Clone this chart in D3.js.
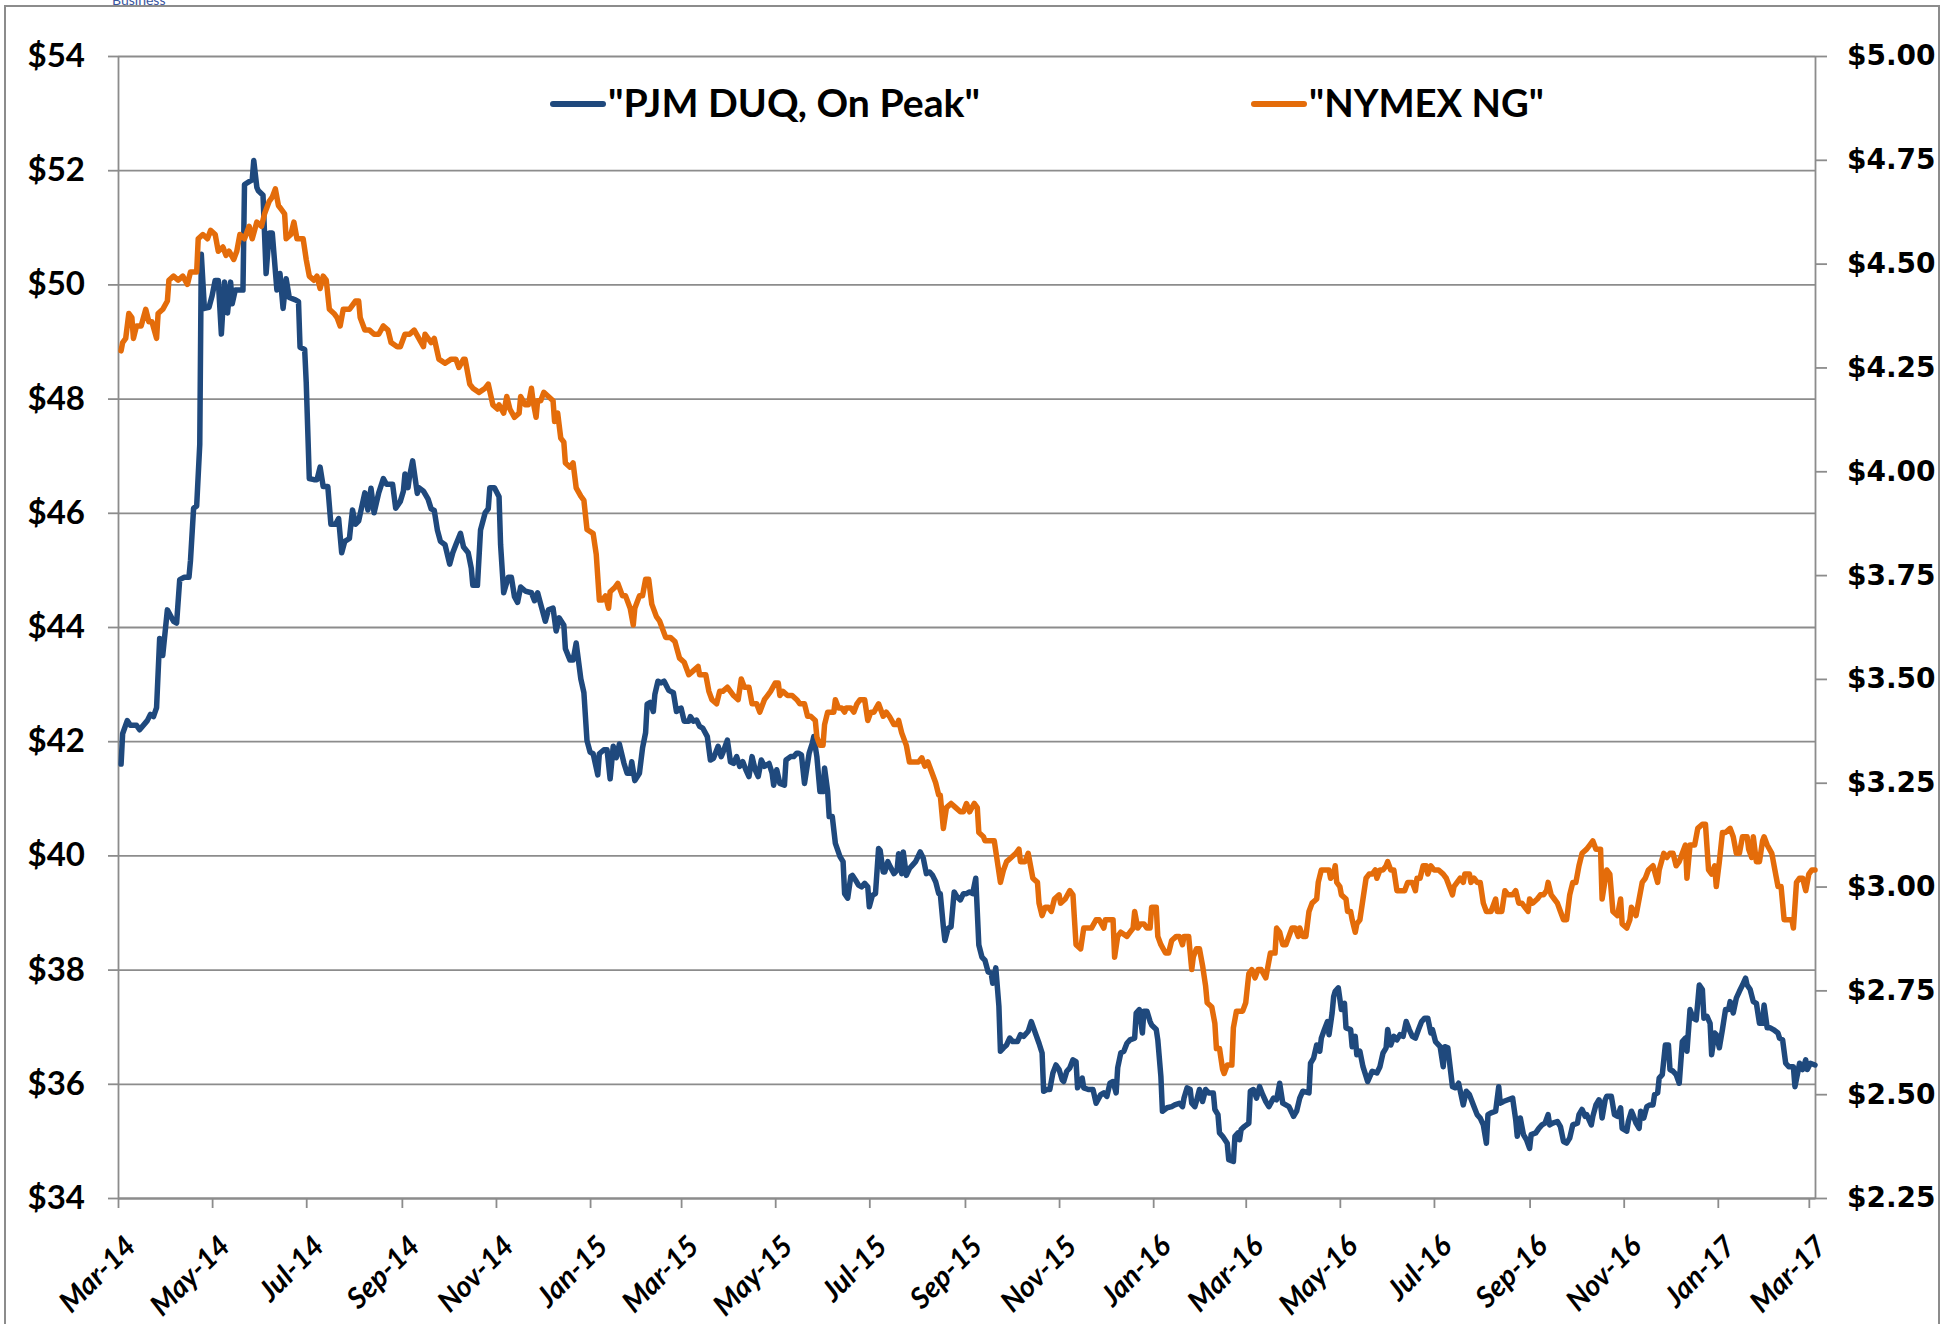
<!DOCTYPE html>
<html>
<head>
<meta charset="utf-8">
<script src="https://cdn.jsdelivr.net/npm/d3@7"></script>
<style>
  html, body { margin: 0; padding: 0; background: #fff; }
  svg { display: block; }
</style>
</head>
<body>
<div id="chart"></div>
<script>
// ---- data ----
const pjmName = '"PJM DUQ, On Peak"';
const ngName = '"NYMEX NG"';
const leftTicks = [34, 36, 38, 40, 42, 44, 46, 48, 50, 52, 54];
const rightTicks = [2.25, 2.5, 2.75, 3.0, 3.25, 3.5, 3.75, 4.0, 4.25, 4.5, 4.75, 5.0];
const monthTicks = ['2014-03-01','2014-05-01','2014-07-01','2014-09-01','2014-11-01',
  '2015-01-01','2015-03-01','2015-05-01','2015-07-01','2015-09-01','2015-11-01',
  '2016-01-01','2016-03-01','2016-05-01','2016-07-01','2016-09-01','2016-11-01',
  '2017-01-01','2017-03-01'];
const xDomain = ['2014-03-01', '2017-03-05'];

// PJM DUQ on-peak forward, $/MWh (left axis)
const pjmDuq = [
  ['2014-03-03',41.6],['2014-03-04',42.13],['2014-03-07',42.36],['2014-03-09',42.28],['2014-03-13',42.28],['2014-03-15',42.2],['2014-03-20',42.36],['2014-03-22',42.47],['2014-03-24',42.43],['2014-03-26',42.59],['2014-03-28',43.8],['2014-03-30',43.5],
  ['2014-04-02',44.3],['2014-04-04',44.2],['2014-04-06',44.1],['2014-04-08',44.07],['2014-04-10',44.83],['2014-04-13',44.87],['2014-04-16',44.87],['2014-04-17',45.17],['2014-04-19',46.08],['2014-04-21',46.12],['2014-04-23',47.2],['2014-04-24',50.53],['2014-04-26',49.58],['2014-04-29',49.6],
  ['2014-05-01',49.8],['2014-05-03',50.07],['2014-05-05',50.07],['2014-05-07',49.13],['2014-05-09',50.04],['2014-05-11',49.5],['2014-05-13',50.04],['2014-05-14',49.66],['2014-05-16',49.9],['2014-05-21',49.9],['2014-05-22',51.75],['2014-05-25',51.8],['2014-05-27',51.83],['2014-05-28',52.17],['2014-05-30',51.7],['2014-05-31',51.64],
  ['2014-06-03',51.56],['2014-06-05',50.19],['2014-06-07',50.9],['2014-06-09',50.9],['2014-06-12',49.9],['2014-06-14',50.19],['2014-06-16',49.58],['2014-06-18',50.1],['2014-06-20',49.77],['2014-06-24',49.73],['2014-06-26',49.7],['2014-06-27',48.9],['2014-06-30',48.86],
  ['2014-07-01',48.29],['2014-07-03',46.6],['2014-07-06',46.58],['2014-07-08',46.58],['2014-07-10',46.8],['2014-07-12',46.46],['2014-07-15',46.46],['2014-07-17',45.8],['2014-07-20',45.8],['2014-07-22',45.9],['2014-07-24',45.3],['2014-07-26',45.5],['2014-07-29',45.55],['2014-07-31',46.05],
  ['2014-08-02',45.8],['2014-08-04',45.86],['2014-08-08',46.35],['2014-08-10',46.05],['2014-08-12',46.43],['2014-08-14',46.0],['2014-08-17',46.35],['2014-08-20',46.6],['2014-08-22',46.5],['2014-08-26',46.5],['2014-08-28',46.08],['2014-08-31',46.2],
  ['2014-09-02',46.38],['2014-09-03',46.68],['2014-09-05',46.44],['2014-09-06',46.64],['2014-09-08',46.91],['2014-09-11',46.34],['2014-09-12',46.44],['2014-09-15',46.38],['2014-09-18',46.24],['2014-09-20',46.07],['2014-09-22',46.04],['2014-09-24',45.7],['2014-09-26',45.5],['2014-09-29',45.44],
  ['2014-10-02',45.1],['2014-10-04',45.3],['2014-10-06',45.44],['2014-10-09',45.64],['2014-10-11',45.4],['2014-10-14',45.3],['2014-10-16',45.03],['2014-10-17',44.73],['2014-10-20',44.73],['2014-10-22',45.7],['2014-10-25',46.0],['2014-10-27',46.07],['2014-10-28',46.44],['2014-10-31',46.44],
  ['2014-11-03',46.28],['2014-11-04',45.44],['2014-11-06',44.6],['2014-11-09',44.87],['2014-11-11',44.87],['2014-11-13',44.53],['2014-11-15',44.43],['2014-11-17',44.7],['2014-11-20',44.63],['2014-11-24',44.6],['2014-11-26',44.46],['2014-11-28',44.6],['2014-11-30',44.4],
  ['2014-12-03',44.1],['2014-12-05',44.3],['2014-12-08',44.33],['2014-12-10',43.93],['2014-12-12',44.16],['2014-12-15',44.03],['2014-12-16',43.62],['2014-12-19',43.42],['2014-12-21',43.42],['2014-12-23',43.72],['2014-12-26',43.09],['2014-12-28',42.85],['2014-12-30',42.01],
  ['2015-01-01',41.81],['2015-01-03',41.78],['2015-01-06',41.41],['2015-01-07',41.78],['2015-01-10',41.85],['2015-01-12',41.85],['2015-01-14',41.34],['2015-01-16',41.91],['2015-01-18',41.71],['2015-01-20',41.95],['2015-01-23',41.61],['2015-01-25',41.44],['2015-01-27',41.44],['2015-01-28',41.64],['2015-01-30',41.31],
  ['2015-02-02',41.44],['2015-02-04',41.88],['2015-02-06',42.15],['2015-02-07',42.65],['2015-02-09',42.68],['2015-02-11',42.52],['2015-02-12',42.82],['2015-02-14',43.05],['2015-02-16',43.02],['2015-02-18',43.05],['2015-02-21',42.89],['2015-02-24',42.85],['2015-02-26',42.52],
  ['2015-03-01',42.58],['2015-03-03',42.35],['2015-03-06',42.35],['2015-03-07',42.43],['2015-03-09',42.35],['2015-03-11',42.37],['2015-03-13',42.26],['2015-03-15',42.23],['2015-03-18',42.08],['2015-03-20',41.67],['2015-03-22',41.7],['2015-03-25',41.91],['2015-03-27',41.73],['2015-03-28',41.79],['2015-03-31',42.02],
  ['2015-04-02',41.64],['2015-04-04',41.61],['2015-04-06',41.73],['2015-04-08',41.56],['2015-04-10',41.64],['2015-04-12',41.5],['2015-04-14',41.38],['2015-04-16',41.73],['2015-04-18',41.5],['2015-04-20',41.38],['2015-04-22',41.67],['2015-04-24',41.56],['2015-04-27',41.61],['2015-04-29',41.44],['2015-04-30',41.23],
  ['2015-05-02',41.5],['2015-05-04',41.26],['2015-05-07',41.23],['2015-05-08',41.67],['2015-05-11',41.73],['2015-05-13',41.73],['2015-05-15',41.79],['2015-05-16',41.79],['2015-05-18',41.76],['2015-05-20',41.26],['2015-05-23',41.79],['2015-05-25',41.96],['2015-05-26',42.08],['2015-05-28',41.73],['2015-05-30',41.12],
  ['2015-06-01',41.12],['2015-06-02',41.53],['2015-06-04',41.12],['2015-06-05',40.68],['2015-06-07',40.68],['2015-06-09',40.21],['2015-06-12',39.98],['2015-06-14',39.89],['2015-06-15',39.33],['2015-06-17',39.25],['2015-06-19',39.63],['2015-06-20',39.65],['2015-06-22',39.57],['2015-06-24',39.48],['2015-06-26',39.45],['2015-06-28',39.51],['2015-06-30',39.45],
  ['2015-07-01',39.1],['2015-07-03',39.3],['2015-07-05',39.33],['2015-07-07',40.12],['2015-07-08',40.09],['2015-07-10',39.71],['2015-07-11',39.71],['2015-07-13',39.89],['2015-07-14',39.83],['2015-07-17',39.68],['2015-07-19',39.74],['2015-07-20',40.03],['2015-07-22',39.68],['2015-07-23',40.06],['2015-07-25',39.65],['2015-07-27',39.77],['2015-07-29',39.83],['2015-07-31',39.89],
  ['2015-08-03',40.06],['2015-08-05',39.95],['2015-08-07',39.68],['2015-08-09',39.71],['2015-08-11',39.65],['2015-08-13',39.54],['2015-08-15',39.33],['2015-08-16',39.33],['2015-08-18',38.75],['2015-08-19',38.51],['2015-08-21',38.72],['2015-08-23',38.75],['2015-08-25',39.36],['2015-08-27',39.27],['2015-08-29',39.22],['2015-08-31',39.33],
  ['2015-09-02',39.33],['2015-09-04',39.36],['2015-09-06',39.33],['2015-09-08',39.6],['2015-09-10',38.43],['2015-09-12',38.22],['2015-09-14',38.16],['2015-09-16',37.96],['2015-09-18',37.94],['2015-09-19',37.76],['2015-09-21',38.03],['2015-09-23',37.36],['2015-09-24',36.57],['2015-09-26',36.63],['2015-09-28',36.68],['2015-09-30',36.8],
  ['2015-10-02',36.74],['2015-10-05',36.74],['2015-10-07',36.86],['2015-10-09',36.83],['2015-10-12',36.92],['2015-10-14',37.09],['2015-10-17',36.86],['2015-10-19',36.71],['2015-10-21',36.54],['2015-10-22',35.87],['2015-10-24',35.9],['2015-10-26',35.9],['2015-10-28',36.19],['2015-10-30',36.33],
  ['2015-11-01',36.25],['2015-11-03',36.07],['2015-11-04',36.04],['2015-11-06',36.22],['2015-11-08',36.28],['2015-11-10',36.42],['2015-11-12',36.39],['2015-11-13',35.93],['2015-11-16',36.1],['2015-11-17',35.93],['2015-11-20',35.9],['2015-11-23',35.9],['2015-11-25',35.66],['2015-11-28',35.81],['2015-11-30',35.84],
  ['2015-12-02',35.78],['2015-12-04',36.01],['2015-12-06',36.04],['2015-12-08',35.84],['2015-12-09',36.28],['2015-12-11',36.54],['2015-12-13',36.57],['2015-12-15',36.71],['2015-12-17',36.77],['2015-12-20',36.8],['2015-12-21',37.24],['2015-12-23',37.3],['2015-12-25',36.89],['2015-12-26',37.27],['2015-12-28',37.27],['2015-12-30',37.09],['2015-12-31',37.03],
  ['2016-01-03',36.95],['2016-01-04',36.77],['2016-01-06',36.13],['2016-01-07',35.52],['2016-01-10',35.58],['2016-01-13',35.6],['2016-01-15',35.63],['2016-01-18',35.66],['2016-01-20',35.6],['2016-01-21',35.75],['2016-01-23',35.93],['2016-01-25',35.9],['2016-01-26',35.66],['2016-01-28',35.6],['2016-01-29',35.69],['2016-01-31',35.9],
  ['2016-02-02',35.69],['2016-02-04',35.9],['2016-02-06',35.84],['2016-02-09',35.84],['2016-02-10',35.55],['2016-02-12',35.46],['2016-02-13',35.14],['2016-02-15',35.08],['2016-02-18',34.96],['2016-02-19',34.67],['2016-02-22',34.64],['2016-02-23',35.08],['2016-02-25',35.14],['2016-02-26',35.02],['2016-02-27',35.2],['2016-02-29',35.25],
  ['2016-03-03',35.31],['2016-03-04',35.87],['2016-03-06',35.9],['2016-03-08',35.75],['2016-03-10',35.95],['2016-03-12',35.81],['2016-03-14',35.69],['2016-03-16',35.6],['2016-03-19',35.75],['2016-03-21',35.72],['2016-03-23',36.01],['2016-03-25',35.66],['2016-03-27',35.63],['2016-03-29',35.6],['2016-03-31',35.49],
  ['2016-04-01',35.43],['2016-04-03',35.52],['2016-04-05',35.75],['2016-04-07',35.87],['2016-04-11',35.84],['2016-04-12',36.36],['2016-04-14',36.45],['2016-04-16',36.68],['2016-04-18',36.57],['2016-04-19',36.8],['2016-04-21',36.95],['2016-04-23',37.09],['2016-04-24',36.86],['2016-04-26',37.24],['2016-04-27',37.53],['2016-04-28',37.62],['2016-04-30',37.68],
  ['2016-05-02',37.3],['2016-05-04',37.41],['2016-05-05',36.98],['2016-05-08',36.95],['2016-05-09',36.65],['2016-05-11',36.83],['2016-05-12',36.51],['2016-05-14',36.57],['2016-05-16',36.3],['2016-05-18',36.13],['2016-05-19',36.04],['2016-05-22',36.22],['2016-05-25',36.19],['2016-05-27',36.3],['2016-05-29',36.54],['2016-05-31',36.63],
  ['2016-06-01',36.95],['2016-06-03',36.68],['2016-06-05',36.83],['2016-06-07',36.77],['2016-06-09',36.86],['2016-06-11',36.83],['2016-06-13',37.09],['2016-06-15',36.95],['2016-06-17',36.83],['2016-06-19',36.8],['2016-06-21',36.95],['2016-06-23',37.09],['2016-06-25',37.15],['2016-06-27',37.15],['2016-06-29',36.89],['2016-06-30',36.95],
  ['2016-07-02',36.74],['2016-07-05',36.65],['2016-07-07',36.3],['2016-07-08',36.65],['2016-07-10',36.63],['2016-07-13',35.95],['2016-07-15',35.93],['2016-07-17',36.01],['2016-07-20',35.63],['2016-07-22',35.87],['2016-07-24',35.81],['2016-07-27',35.6],['2016-07-29',35.46],['2016-07-31',35.4],
  ['2016-08-02',35.28],['2016-08-04',34.96],['2016-08-05',35.46],['2016-08-07',35.49],['2016-08-10',35.52],['2016-08-12',35.95],['2016-08-13',35.66],['2016-08-15',35.69],['2016-08-18',35.72],['2016-08-21',35.75],['2016-08-23',35.37],['2016-08-24',35.08],['2016-08-26',35.4],['2016-08-28',35.11],['2016-08-30',35.02],
  ['2016-09-01',34.87],['2016-09-02',35.11],['2016-09-05',35.14],['2016-09-07',35.22],['2016-09-09',35.28],['2016-09-11',35.31],['2016-09-13',35.46],['2016-09-14',35.28],['2016-09-16',35.31],['2016-09-19',35.34],['2016-09-21',35.25],['2016-09-23',34.99],['2016-09-25',34.96],['2016-09-27',35.05],['2016-09-29',35.28],
  ['2016-10-02',35.31],['2016-10-03',35.46],['2016-10-05',35.55],['2016-10-07',35.43],['2016-10-08',35.46],['2016-10-11',35.28],['2016-10-12',35.43],['2016-10-14',35.63],['2016-10-16',35.72],['2016-10-17',35.66],['2016-10-18',35.4],['2016-10-20',35.72],['2016-10-21',35.78],['2016-10-24',35.78],['2016-10-26',35.46],['2016-10-28',35.43],['2016-10-30',35.58],['2016-10-31',35.22],
  ['2016-11-03',35.17],['2016-11-04',35.34],['2016-11-06',35.52],['2016-11-07',35.46],['2016-11-09',35.31],['2016-11-11',35.22],['2016-11-12',35.52],['2016-11-14',35.4],['2016-11-16',35.6],['2016-11-18',35.63],['2016-11-20',35.63],['2016-11-21',35.81],['2016-11-23',35.84],['2016-11-24',36.1],['2016-11-26',36.16],['2016-11-28',36.68],['2016-11-30',36.68],
  ['2016-12-01',36.25],['2016-12-03',36.22],['2016-12-05',36.16],['2016-12-07',36.01],['2016-12-09',36.74],['2016-12-11',36.8],['2016-12-12',36.57],['2016-12-14',37.3],['2016-12-16',37.15],['2016-12-18',37.12],['2016-12-20',37.73],['2016-12-22',37.65],['2016-12-23',37.15],['2016-12-25',37.18],['2016-12-27',37.06],['2016-12-28',36.51],['2016-12-30',36.89],['2016-12-31',36.86],
  ['2017-01-02',36.63],['2017-01-04',36.95],['2017-01-06',37.3],['2017-01-08',37.3],['2017-01-09',37.44],['2017-01-11',37.24],['2017-01-13',37.5],['2017-01-15',37.62],['2017-01-17',37.73],['2017-01-19',37.85],['2017-01-20',37.73],['2017-01-22',37.65],['2017-01-24',37.44],['2017-01-26',37.41],['2017-01-28',37.06],['2017-01-30',37.06],['2017-01-31',37.38],
  ['2017-02-02',36.98],['2017-02-04',36.98],['2017-02-06',36.95],['2017-02-09',36.89],['2017-02-10',36.8],['2017-02-12',36.77],['2017-02-14',36.36],['2017-02-16',36.3],['2017-02-19',36.3],['2017-02-20',35.95],['2017-02-22',36.22],['2017-02-23',36.36],['2017-02-25',36.25],['2017-02-27',36.42],['2017-02-28',36.25],
  ['2017-03-02',36.36],['2017-03-05',36.33]
];

// NYMEX natural gas, $/MMBtu (right axis)
const nymexNg = [
  ['2014-03-03',4.29],['2014-03-04',4.31],['2014-03-06',4.32],['2014-03-08',4.38],['2014-03-10',4.37],['2014-03-11',4.32],['2014-03-13',4.35],['2014-03-16',4.35],['2014-03-19',4.39],['2014-03-21',4.36],['2014-03-23',4.36],['2014-03-26',4.32],['2014-03-27',4.38],['2014-03-30',4.39],
  ['2014-04-02',4.41],['2014-04-03',4.46],['2014-04-06',4.47],['2014-04-09',4.46],['2014-04-12',4.47],['2014-04-15',4.45],['2014-04-17',4.48],['2014-04-19',4.48],['2014-04-21',4.48],['2014-04-22',4.56],['2014-04-25',4.57],['2014-04-28',4.56],['2014-04-30',4.58],
  ['2014-05-03',4.57],['2014-05-05',4.53],['2014-05-08',4.54],['2014-05-10',4.52],['2014-05-12',4.53],['2014-05-15',4.51],['2014-05-17',4.53],['2014-05-19',4.57],['2014-05-22',4.56],['2014-05-25',4.59],['2014-05-27',4.56],['2014-05-30',4.60],
  ['2014-06-02',4.59],['2014-06-04',4.62],['2014-06-07',4.65],['2014-06-09',4.66],['2014-06-11',4.68],['2014-06-13',4.64],['2014-06-15',4.63],['2014-06-17',4.62],['2014-06-18',4.56],['2014-06-21',4.57],['2014-06-23',4.60],['2014-06-25',4.56],['2014-06-29',4.56],
  ['2014-07-01',4.51],['2014-07-03',4.47],['2014-07-06',4.46],['2014-07-08',4.47],['2014-07-10',4.44],['2014-07-12',4.47],['2014-07-14',4.46],['2014-07-16',4.39],['2014-07-19',4.38],['2014-07-21',4.37],['2014-07-23',4.35],['2014-07-25',4.39],['2014-07-29',4.39],
  ['2014-08-02',4.41],['2014-08-04',4.41],['2014-08-05',4.37],['2014-08-08',4.34],['2014-08-11',4.34],['2014-08-14',4.33],['2014-08-17',4.33],['2014-08-20',4.35],['2014-08-23',4.34],['2014-08-25',4.31],['2014-08-29',4.30],['2014-08-31',4.30],
  ['2014-09-03',4.33],['2014-09-06',4.33],['2014-09-09',4.34],['2014-09-12',4.32],['2014-09-15',4.30],['2014-09-16',4.33],['2014-09-20',4.31],['2014-09-22',4.32],['2014-09-25',4.27],['2014-09-29',4.26],
  ['2014-10-03',4.27],['2014-10-06',4.27],['2014-10-08',4.25],['2014-10-11',4.27],['2014-10-12',4.27],['2014-10-15',4.21],['2014-10-17',4.20],['2014-10-21',4.19],['2014-10-25',4.20],['2014-10-27',4.21],['2014-10-30',4.16],
  ['2014-11-02',4.15],['2014-11-03',4.16],['2014-11-06',4.14],['2014-11-08',4.18],['2014-11-10',4.15],['2014-11-13',4.13],['2014-11-16',4.14],['2014-11-17',4.18],['2014-11-20',4.16],['2014-11-22',4.16],['2014-11-24',4.20],['2014-11-25',4.17],['2014-11-27',4.13],['2014-11-28',4.17],['2014-11-30',4.17],
  ['2014-12-02',4.19],['2014-12-05',4.18],['2014-12-08',4.17],['2014-12-09',4.12],['2014-12-11',4.14],['2014-12-13',4.08],['2014-12-15',4.07],['2014-12-16',4.02],['2014-12-19',4.01],['2014-12-21',4.02],['2014-12-23',3.96],['2014-12-26',3.94],['2014-12-28',3.93],['2014-12-30',3.86],
  ['2015-01-03',3.85],['2015-01-05',3.80],['2015-01-07',3.69],['2015-01-09',3.69],['2015-01-11',3.70],['2015-01-13',3.67],['2015-01-14',3.71],['2015-01-17',3.72],['2015-01-19',3.73],['2015-01-22',3.70],['2015-01-24',3.70],['2015-01-27',3.67],['2015-01-29',3.63],['2015-01-30',3.67],
  ['2015-02-02',3.70],['2015-02-04',3.70],['2015-02-06',3.74],['2015-02-08',3.74],['2015-02-10',3.68],['2015-02-13',3.65],['2015-02-15',3.64],['2015-02-19',3.60],['2015-02-22',3.60],['2015-02-25',3.59],['2015-02-28',3.55],
  ['2015-03-03',3.54],['2015-03-06',3.51],['2015-03-09',3.52],['2015-03-12',3.53],['2015-03-13',3.51],['2015-03-17',3.51],['2015-03-19',3.47],['2015-03-21',3.45],['2015-03-24',3.44],['2015-03-26',3.47],['2015-03-28',3.47],['2015-03-31',3.48],
  ['2015-04-02',3.47],['2015-04-04',3.46],['2015-04-07',3.45],['2015-04-09',3.50],['2015-04-11',3.48],['2015-04-14',3.48],['2015-04-16',3.44],['2015-04-19',3.44],['2015-04-21',3.42],['2015-04-24',3.45],['2015-04-26',3.46],['2015-04-28',3.47],
  ['2015-05-01',3.49],['2015-05-03',3.49],['2015-05-04',3.46],['2015-05-06',3.47],['2015-05-09',3.46],['2015-05-12',3.46],['2015-05-15',3.45],['2015-05-17',3.44],['2015-05-20',3.44],['2015-05-22',3.41],['2015-05-24',3.41],['2015-05-27',3.40],['2015-05-28',3.36],['2015-05-30',3.34],
  ['2015-06-01',3.34],['2015-06-02',3.39],['2015-06-04',3.42],['2015-06-06',3.42],['2015-06-08',3.42],['2015-06-09',3.45],['2015-06-11',3.43],['2015-06-13',3.43],['2015-06-15',3.42],['2015-06-16',3.43],['2015-06-19',3.43],['2015-06-21',3.42],['2015-06-23',3.44],['2015-06-25',3.45],['2015-06-28',3.45],['2015-06-30',3.40],
  ['2015-07-02',3.42],['2015-07-04',3.42],['2015-07-07',3.44],['2015-07-10',3.41],['2015-07-12',3.42],['2015-07-14',3.41],['2015-07-17',3.39],['2015-07-19',3.39],['2015-07-20',3.40],['2015-07-22',3.37],['2015-07-25',3.34],['2015-07-27',3.30],['2015-07-30',3.30],
  ['2015-08-02',3.30],['2015-08-04',3.31],['2015-08-06',3.29],['2015-08-08',3.30],['2015-08-10',3.28],['2015-08-13',3.25],['2015-08-15',3.22],['2015-08-16',3.22],['2015-08-18',3.14],['2015-08-20',3.19],['2015-08-23',3.20],['2015-08-26',3.19],['2015-08-29',3.18],['2015-08-31',3.18],
  ['2015-09-02',3.20],['2015-09-04',3.18],['2015-09-07',3.20],['2015-09-09',3.19],['2015-09-10',3.13],['2015-09-13',3.12],['2015-09-14',3.11],['2015-09-17',3.11],['2015-09-20',3.11],['2015-09-22',3.06],['2015-09-24',3.01],['2015-09-26',3.04],['2015-09-28',3.06],
  ['2015-10-01',3.07],['2015-10-04',3.08],['2015-10-06',3.09],['2015-10-07',3.06],['2015-10-10',3.06],['2015-10-12',3.08],['2015-10-15',3.02],['2015-10-18',3.01],['2015-10-19',2.96],['2015-10-21',2.93],['2015-10-23',2.95],['2015-10-25',2.95],['2015-10-27',2.94],['2015-10-29',2.97],
  ['2015-11-01',2.98],['2015-11-02',2.96],['2015-11-05',2.97],['2015-11-08',2.99],['2015-11-10',2.98],['2015-11-12',2.86],['2015-11-15',2.85],['2015-11-17',2.90],['2015-11-19',2.90],['2015-11-22',2.90],['2015-11-25',2.92],['2015-11-27',2.92],['2015-11-30',2.90],
  ['2015-12-01',2.92],['2015-12-04',2.92],['2015-12-06',2.92],['2015-12-07',2.83],['2015-12-09',2.88],['2015-12-11',2.89],['2015-12-15',2.88],['2015-12-17',2.89],['2015-12-19',2.90],['2015-12-20',2.94],['2015-12-22',2.90],['2015-12-24',2.91],['2015-12-26',2.91],['2015-12-28',2.90],['2015-12-30',2.90],['2015-12-31',2.95],
  ['2016-01-03',2.95],['2016-01-04',2.88],['2016-01-06',2.86],['2016-01-09',2.84],['2016-01-11',2.84],['2016-01-13',2.87],['2016-01-16',2.88],['2016-01-18',2.88],['2016-01-20',2.86],['2016-01-21',2.88],['2016-01-24',2.88],['2016-01-26',2.80],['2016-01-27',2.83],['2016-01-29',2.85],['2016-01-31',2.85],
  ['2016-02-02',2.81],['2016-02-04',2.76],['2016-02-05',2.72],['2016-02-08',2.71],['2016-02-09',2.69],['2016-02-10',2.67],['2016-02-11',2.61],['2016-02-13',2.61],['2016-02-15',2.56],['2016-02-16',2.55],['2016-02-18',2.57],['2016-02-21',2.57],['2016-02-22',2.66],['2016-02-24',2.70],['2016-02-26',2.70],['2016-02-28',2.70],
  ['2016-03-01',2.72],['2016-03-03',2.79],['2016-03-05',2.80],['2016-03-07',2.78],['2016-03-09',2.80],['2016-03-11',2.80],['2016-03-14',2.78],['2016-03-16',2.82],['2016-03-17',2.84],['2016-03-20',2.84],['2016-03-21',2.90],['2016-03-23',2.89],['2016-03-25',2.86],['2016-03-27',2.86],['2016-03-29',2.88],['2016-03-31',2.90],
  ['2016-04-02',2.90],['2016-04-04',2.88],['2016-04-05',2.90],['2016-04-07',2.88],['2016-04-09',2.88],['2016-04-11',2.94],['2016-04-13',2.96],['2016-04-16',2.97],['2016-04-17',3.01],['2016-04-19',3.04],['2016-04-21',3.04],['2016-04-24',3.04],['2016-04-25',3.02],['2016-04-27',3.03],['2016-04-28',3.05],['2016-04-29',3.01],
  ['2016-05-01',3.00],['2016-05-02',2.98],['2016-05-05',2.97],['2016-05-06',2.94],['2016-05-08',2.94],['2016-05-09',2.92],['2016-05-11',2.89],['2016-05-12',2.91],['2016-05-14',2.92],['2016-05-16',2.97],['2016-05-18',3.02],['2016-05-20',3.03],['2016-05-22',3.03],['2016-05-24',3.04],['2016-05-25',3.02],['2016-05-27',3.04],['2016-05-29',3.04],['2016-05-31',3.05],
  ['2016-06-01',3.06],['2016-06-03',3.04],['2016-06-05',3.04],['2016-06-07',2.99],['2016-06-09',2.99],['2016-06-12',2.99],['2016-06-14',3.01],['2016-06-17',3.01],['2016-06-19',2.99],['2016-06-20',3.02],['2016-06-22',3.02],['2016-06-24',3.05],['2016-06-26',3.05],['2016-06-27',3.03],['2016-06-29',3.05],
  ['2016-07-01',3.04],['2016-07-04',3.04],['2016-07-07',3.03],['2016-07-09',3.02],['2016-07-11',3.00],['2016-07-13',2.98],['2016-07-14',3.00],['2016-07-16',3.01],['2016-07-18',3.02],['2016-07-20',3.01],['2016-07-21',3.03],['2016-07-24',3.03],['2016-07-25',3.01],['2016-07-27',3.02],['2016-07-29',3.01],['2016-07-31',3.01],
  ['2016-08-02',2.96],['2016-08-04',2.94],['2016-08-07',2.94],['2016-08-10',2.97],['2016-08-11',2.94],['2016-08-14',2.94],['2016-08-16',2.99],['2016-08-18',2.98],['2016-08-21',2.98],['2016-08-23',2.99],['2016-08-25',2.96],['2016-08-27',2.96],['2016-08-29',2.95],['2016-08-31',2.94],
  ['2016-09-01',2.97],['2016-09-03',2.96],['2016-09-06',2.97],['2016-09-08',2.98],['2016-09-10',2.98],['2016-09-12',2.99],['2016-09-13',3.01],['2016-09-15',2.98],['2016-09-17',2.97],['2016-09-19',2.96],['2016-09-21',2.94],['2016-09-23',2.92],['2016-09-25',2.92],['2016-09-27',2.98],['2016-09-29',3.01],
  ['2016-10-01',3.01],['2016-10-03',3.05],['2016-10-05',3.08],['2016-10-08',3.09],['2016-10-10',3.10],['2016-10-12',3.11],['2016-10-14',3.09],['2016-10-17',3.09],['2016-10-18',2.97],['2016-10-21',3.04],['2016-10-23',3.03],['2016-10-25',2.94],['2016-10-28',2.93],['2016-10-30',2.97],['2016-10-31',2.91],
  ['2016-11-03',2.90],['2016-11-05',2.92],['2016-11-06',2.95],['2016-11-09',2.93],['2016-11-11',2.97],['2016-11-13',3.01],['2016-11-15',3.02],['2016-11-17',3.04],['2016-11-20',3.05],['2016-11-23',3.01],['2016-11-24',3.04],['2016-11-27',3.08],['2016-11-29',3.07],
  ['2016-12-01',3.08],['2016-12-03',3.08],['2016-12-05',3.05],['2016-12-07',3.06],['2016-12-09',3.08],['2016-12-11',3.10],['2016-12-12',3.02],['2016-12-14',3.10],['2016-12-17',3.10],['2016-12-19',3.14],['2016-12-22',3.15],['2016-12-24',3.15],['2016-12-26',3.04],['2016-12-28',3.03],['2016-12-30',3.05],['2016-12-31',3.00],
  ['2017-01-02',3.06],['2017-01-04',3.13],['2017-01-06',3.13],['2017-01-09',3.14],['2017-01-11',3.12],['2017-01-13',3.08],['2017-01-15',3.08],['2017-01-17',3.12],['2017-01-20',3.12],['2017-01-21',3.09],['2017-01-23',3.07],['2017-01-24',3.12],['2017-01-26',3.06],['2017-01-28',3.06],['2017-01-30',3.11],['2017-01-31',3.12],
  ['2017-02-02',3.10],['2017-02-05',3.08],['2017-02-07',3.04],['2017-02-09',3.00],['2017-02-11',3.00],['2017-02-13',2.92],['2017-02-15',2.92],['2017-02-18',2.92],['2017-02-19',2.90],['2017-02-21',3.01],['2017-02-23',3.02],['2017-02-25',3.02],['2017-02-27',2.99],
  ['2017-03-01',3.03],['2017-03-03',3.04],['2017-03-05',3.04]
];

// ---- layout ----
const W = 1957, H = 1324;
const X0 = 118, X1 = 1815, Y0 = 56, Y1 = 1198;

const BLUE = '#1f497d';
const ORANGE = '#e46c0a';
const GRID = '#8c8c8c';
const LABEL_FONT = 'Lato, "Open Sans", "Liberation Sans", sans-serif';
const RIGHT_FONT = '"DejaVu Sans", Verdana, sans-serif';

const parseDate = d3.timeParse('%Y-%m-%d');

const x = d3.scaleTime()
  .domain(xDomain.map(parseDate))
  .range([X0, X1]);
const yL = d3.scaleLinear().domain([34, 54]).range([Y1, Y0]);
const yR = d3.scaleLinear().domain([2.25, 5]).range([Y1, Y0]);

const svg = d3.select('#chart')
  .append('svg')
  .attr('width', W)
  .attr('height', H)
  .attr('viewBox', `0 0 ${W} ${H}`);

svg.append('rect').attr('width', W).attr('height', H).attr('fill', '#fff');

// outer chart frame (runs off the bottom of the picture)
svg.append('rect')
  .attr('x', 5).attr('y', 6)
  .attr('width', 1934).attr('height', H + 20)
  .attr('fill', 'none')
  .attr('stroke', GRID)
  .attr('stroke-width', 2);

// caption fragment at the very top, as in the source picture
svg.append('text')
  .attr('x', 112).attr('y', 5)
  .attr('font-family', LABEL_FONT)
  .attr('font-size', 14)
  .attr('fill', '#3a56a0')
  .text('Business');

// horizontal gridlines
svg.append('g')
  .attr('transform', `translate(${X0},0)`)
  .call(d3.axisLeft(yL).tickValues(leftTicks).tickSize(-(X1 - X0)).tickSizeOuter(0).tickFormat(''))
  .call(g => g.select('.domain').remove())
  .call(g => g.selectAll('.tick line').attr('stroke', GRID).attr('stroke-width', 1.8));

// left axis
svg.append('g')
  .attr('transform', `translate(${X0},0)`)
  .call(d3.axisLeft(yL).tickValues(leftTicks).tickSize(10).tickSizeOuter(0).tickPadding(23)
    .tickFormat(d => '$' + d))
  .call(g => g.select('.domain').attr('stroke', GRID).attr('stroke-width', 1.8))
  .call(g => g.selectAll('.tick line').attr('stroke', GRID).attr('stroke-width', 1.8))
  .call(g => g.selectAll('.tick text')
    .attr('font-family', LABEL_FONT).attr('font-weight', 700)
    .attr('font-size', 33).attr('fill', '#000'));

// right axis
svg.append('g')
  .attr('transform', `translate(${X1},0)`)
  .call(d3.axisRight(yR).tickValues(rightTicks).tickSize(12).tickSizeOuter(0).tickPadding(20)
    .tickFormat(d => '$' + d.toFixed(2)))
  .call(g => g.select('.domain').attr('stroke', GRID).attr('stroke-width', 1.8))
  .call(g => g.selectAll('.tick line').attr('stroke', GRID).attr('stroke-width', 1.8))
  .call(g => g.selectAll('.tick text')
    .attr('font-family', RIGHT_FONT).attr('font-weight', 700)
    .attr('font-size', 28).attr('fill', '#000'));

// bottom axis with rotated month labels
svg.append('g')
  .attr('transform', `translate(0,${Y1})`)
  .call(d3.axisBottom(x).tickValues(monthTicks.map(parseDate)).tickSize(10).tickSizeOuter(0)
    .tickFormat(d3.timeFormat('%b-%y')))
  .call(g => g.select('.domain').attr('stroke', GRID).attr('stroke-width', 1.8))
  .call(g => g.selectAll('.tick line').attr('stroke', GRID).attr('stroke-width', 1.8))
  .call(g => g.selectAll('.tick text')
    .attr('y', 0).attr('dy', 0)
    .attr('text-anchor', 'end')
    .attr('transform', 'translate(19,50) rotate(-45)')
    .attr('font-family', LABEL_FONT).attr('font-weight', 700).attr('font-style', 'italic')
    .attr('font-size', 29).attr('fill', '#000'));

// series
const rows = arr => arr.map(([d, v]) => ({ date: parseDate(d), v }));

const pjmLine = d3.line().x(d => x(d.date)).y(d => yL(d.v));
const ngLine = d3.line().x(d => x(d.date)).y(d => yR(d.v));

svg.append('path')
  .datum(rows(pjmDuq))
  .attr('d', pjmLine)
  .attr('fill', 'none')
  .attr('stroke', BLUE)
  .attr('stroke-width', 5.5)
  .attr('stroke-linejoin', 'round')
  .attr('stroke-linecap', 'round');

svg.append('path')
  .datum(rows(nymexNg))
  .attr('d', ngLine)
  .attr('fill', 'none')
  .attr('stroke', ORANGE)
  .attr('stroke-width', 5.5)
  .attr('stroke-linejoin', 'round')
  .attr('stroke-linecap', 'round');

// legend
const legend = [
  { name: pjmName, color: BLUE, x: 553, width: 372 },
  { name: ngName, color: ORANGE, x: 1254, width: 235 }
];
const lg = svg.append('g');
legend.forEach(l => {
  lg.append('line')
    .attr('x1', l.x).attr('x2', l.x + 50)
    .attr('y1', 104).attr('y2', 104)
    .attr('stroke', l.color).attr('stroke-width', 6).attr('stroke-linecap', 'round');
  lg.append('text')
    .attr('x', l.x + 55).attr('y', 117)
    .attr('font-family', LABEL_FONT).attr('font-weight', 700)
    .attr('font-size', 38).attr('fill', '#000')
    .attr('textLength', l.width).attr('lengthAdjust', 'spacingAndGlyphs')
    .text(l.name);
});
</script>
</body>
</html>
